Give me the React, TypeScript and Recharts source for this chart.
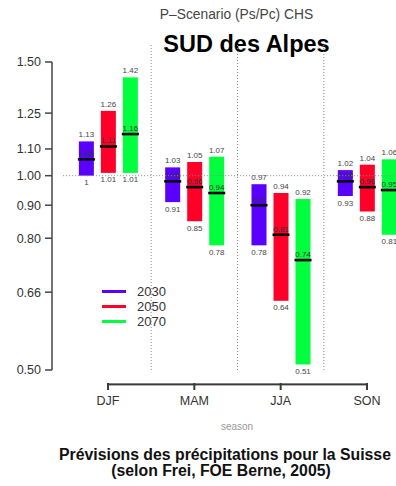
import React from 'react';
import { ComposedChart, Bar, XAxis, YAxis, ReferenceLine } from 'recharts';

const seasons = ['DJF', 'MAM', 'JJA', 'SON'];
const years = ['2030', '2050', '2070'];

const min2030 = [1, 0.91, 0.78, 0.93];
const med2030 = [1.06, 0.98, 0.9, 0.98];
const max2030 = [1.13, 1.03, 0.97, 1.02];

const min2050 = [1.01, 0.85, 0.64, 0.88];
const med2050 = [1.11, 0.96, 0.81, 0.96];
const max2050 = [1.26, 1.05, 0.94, 1.04];

const min2070 = [1.01, 0.78, 0.51, 0.81];
const med2070 = [1.16, 0.94, 0.74, 0.95];
const max2070 = [1.42, 1.07, 0.92, 1.06];

const yTicks = [0.5, 0.66, 0.8, 0.9, 1.0, 1.1, 1.25, 1.5];

const COLORS: Record<string, string> = { '2030': '#5a00ff', '2050': '#ff0028', '2070': '#00ff3c' };
const FONT = '"Liberation Sans", Arial, Helvetica, sans-serif';
const AXIS_COLOR = '#3a3a3a';

// value space helpers for the R-style frame (axis offset below the plot)
const PLOT_TOP = 1.605;
const AXIS_Y = 0.475;

const data = seasons.map((season, i) => ({
    x: i,
    season,
    r2030: [min2030[i], max2030[i]],
    m2030: med2030[i],
    r2050: [min2050[i], max2050[i]],
    m2050: med2050[i],
    r2070: [min2070[i], max2070[i]],
    m2070: med2070[i],
}));

const RangeShape = (props: any) => {
    const { x, y, width, height, payload, year } = props;
    if (x == null || y == null) return null;
    const [lo, hi] = payload['r' + year];
    const med = payload['m' + year];
    // log scale, so the median sits at the log-proportional point of the bar
    const my = y + (height * (Math.log(hi) - Math.log(med))) / (Math.log(hi) - Math.log(lo));
    const cx = x + width / 2;
    return (
        <g>
            <rect x={x} y={y} width={width} height={height} fill={COLORS[year]} />
            <line x1={x - 1} x2={x + width + 1} y1={my} y2={my} stroke="#000" strokeWidth={2.6} />
            <text x={cx} y={y - 4} textAnchor="middle" fontSize={8} fill="#444" fontFamily={FONT}>
                {String(hi)}
            </text>
            <text x={cx} y={y + height + 9.5} textAnchor="middle" fontSize={8} fill="#444" fontFamily={FONT}>
                {String(lo)}
            </text>
            <text x={cx} y={my - 3} textAnchor="middle" fontSize={8} fill="#333" fontFamily={FONT}>
                {String(med)}
            </text>
        </g>
    );
};

const SeasonTick = (props: any) => {
    const { x, y, payload } = props;
    return (
        <g>
            <rect x={x - 1} y={y + 13} width={2} height={7} fill={AXIS_COLOR} />
            <text x={x} y={y + 34.5} textAnchor="middle" fontSize={12.5} fill="#333" fontFamily={FONT}>
                {seasons[payload.value]}
            </text>
        </g>
    );
};

// horizontal axis bar drawn as a filled rect between the segment ends
const AxisBar = (props: any) => {
    const { x1, x2, y1 } = props;
    if (x1 == null || x2 == null || y1 == null) return null;
    return <rect x={Math.min(x1, x2) - 1} y={y1 - 1} width={Math.abs(x2 - x1) + 2} height={2} fill={AXIS_COLOR} />;
};

const Text = ({ x, y, style, children }: any) => (
    <div
        style={{
            position: 'absolute',
            left: x,
            top: y,
            transform: 'translate(-50%, -50%)',
            whiteSpace: 'nowrap',
            fontFamily: FONT,
            ...style,
        }}
    >
        {children}
    </div>
);

const App: React.FC = () => {
    return (
        <div style={{ position: 'absolute', left: 0, top: 0, width: 396, height: 486 }}>
            <Text x={236.5} y={14} style={{ fontSize: 13.8, color: '#444' }}>
                P–Scenario (Ps/Pc) CHS
            </Text>
            <Text x={246.5} y={44} style={{ fontSize: 23.5, fontWeight: 'bold', color: '#000' }}>
                SUD des Alpes
            </Text>
            <Text x={237} y={426} style={{ fontSize: 10, color: '#999' }}>
                season
            </Text>
            <Text x={225} y={455} style={{ fontSize: 15.8, fontWeight: 'bold', color: '#111' }}>
                Prévisions des précipitations pour la Suisse
            </Text>
            <Text x={221} y={471} style={{ fontSize: 15.8, fontWeight: 'bold', color: '#111' }}>
                (selon Frei, FOE Berne, 2005)
            </Text>
            <div style={{ position: 'absolute', left: 100, top: 284, fontFamily: FONT, fontSize: 13, color: '#333' }}>
                {years.map((yr) => (
                    <div key={yr} style={{ display: 'flex', alignItems: 'center', height: 15 }}>
                        <svg width={37} height={15}>
                            <line x1={2} x2={26} y1={7.5} y2={7.5} stroke={COLORS[yr]} strokeWidth={3} />
                        </svg>
                        <span>{yr}</span>
                    </div>
                ))}
            </div>
            <ComposedChart
                width={396}
                height={486}
                data={data}
                margin={{ top: 62, right: 0, bottom: 66, left: 0 }}
                barSize={15}
                barGap={7}
            >
                <XAxis
                    dataKey="x"
                    type="number"
                    domain={[-0.649, 3.336]}
                    ticks={[0, 1, 2, 3]}
                    interval={0}
                    axisLine={false}
                    tickLine={false}
                    tickSize={0}
                    tickMargin={0}
                    height={50}
                    tick={<SeasonTick />}
                />
                <YAxis
                    type="number"
                    scale="log"
                    domain={[0.5, 1.5]}
                    ticks={yTicks}
                    interval={0}
                    width={52}
                    tickFormatter={(v: number) => v.toFixed(2)}
                    tick={{ fontSize: 12.5, fill: '#333', fontFamily: FONT }}
                    tickSize={7}
                    tickMargin={4}
                    axisLine={{ stroke: '#444', strokeWidth: 1.5 }}
                    tickLine={{ stroke: '#444', strokeWidth: 1.5 }}
                />
                {[0.5, 1.5, 2.5].map((v) => (
                    <ReferenceLine
                        key={v}
                        segment={[{ x: v, y: 0.5 }, { x: v, y: PLOT_TOP }]}
                        ifOverflow="visible"
                        stroke="#888"
                        strokeDasharray="1 2"
                    />
                ))}
                <ReferenceLine
                    segment={[{ x: -0.52, y: 1 }, { x: 3.336, y: 1 }]}
                    ifOverflow="visible"
                    stroke="#888"
                    strokeDasharray="1 2"
                />
                <ReferenceLine
                    segment={[{ x: 0, y: AXIS_Y }, { x: 3, y: AXIS_Y }]}
                    ifOverflow="visible"
                    stroke={AXIS_COLOR}
                    strokeWidth={2}
                    shape={<AxisBar />}
                />
                {years.map((yr) => (
                    <Bar
                        key={yr}
                        name={yr}
                        dataKey={'r' + yr}
                        fill={COLORS[yr]}
                        isAnimationActive={false}
                        shape={(p: any) => <RangeShape {...p} year={yr} />}
                    />
                ))}
            </ComposedChart>
        </div>
    );
};

export default App;
